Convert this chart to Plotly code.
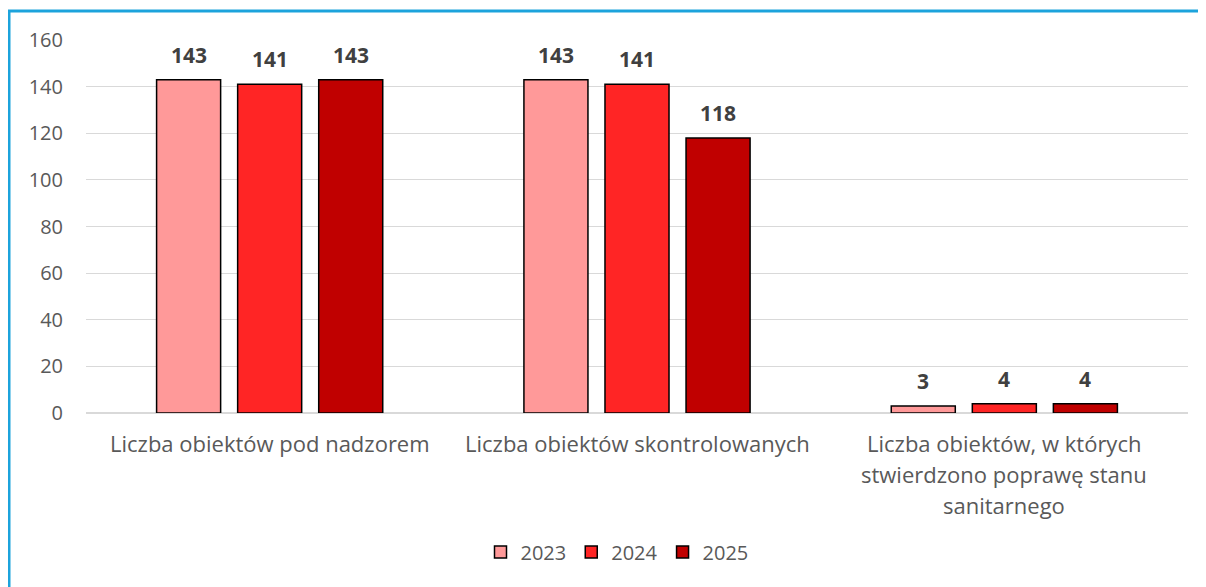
import plotly.graph_objects as go

categories = [
    "Liczba obiektów pod nadzorem",
    "Liczba obiektów skontrolowanych",
    "Liczba obiektów, w których\nstwierdzono poprawę stanu\nsanitarnego",
]
series_names = ["2023", "2024", "2025"]
values_2023 = [143, 143, 3]
values_2024 = [141, 141, 4]
values_2025 = [143, 118, 4]
colors = ["#FF9999", "#FF2525", "#C00000"]
y_ticks = [0, 20, 40, 60, 80, 100, 120, 140, 160]

series_values = [values_2023, values_2024, values_2025]

# page has an 8px body margin; figure coordinates below are page coords - 8
OFF = 8
W, H = 1206, 587
ML, MT = 86 - OFF, 40 - OFF
plot_right, plot_bottom = 1188 - OFF, 413 - OFF
MR, MB = W - plot_right, H - plot_bottom
plot_w = plot_right - ML
plot_h = plot_bottom - MT
bargap = 0.338
bargroupgap = 0.21

font = "Open Sans, Liberation Sans, Arial, sans-serif"
gray = "#595959"
FS = 20

fig = go.Figure()
for name, vals, col in zip(series_names, series_values, colors):
    fig.add_trace(go.Bar(
        x=list(range(len(categories))), y=vals, name=name,
        marker=dict(color=col, line=dict(color="#000000", width=1.5)),
    ))

# category labels (multi-line with wide line spacing)
cat_w = plot_w / len(categories)
line_gap = 31
for i, c in enumerate(categories):
    for j, line in enumerate(c.split("\n")):
        fig.add_annotation(x=i, y=0, xref="x", yref="y", text=line, showarrow=False,
                           yshift=-30 - j * line_gap, yanchor="middle",
                           font=dict(family=font, size=22, color=gray))

# data labels
slot = cat_w * (1 - bargap) / len(series_names)
for k, vals in enumerate(series_values):
    for i, v in enumerate(vals):
        fig.add_annotation(x=i, y=v, xref="x", yref="y", text=f"<b>{v}</b>", showarrow=False,
                           xshift=(k - 1) * slot, yshift=25, yanchor="middle",
                           font=dict(family=font, size=21, color="#404040"))

# outer border (left and top visible)
px2x = lambda px: (px - ML) / plot_w
py2y = lambda py: (plot_bottom - py) / plot_h
fig.add_shape(type="rect", xref="paper", yref="paper",
              x0=px2x(1), x1=px2x(1300), y0=py2y(700), y1=py2y(3),
              line=dict(color="#1CA3DC", width=3), fillcolor="rgba(0,0,0,0)", layer="below")

fig.update_layout(
    width=W, height=H,
    margin=dict(l=ML, r=MR, t=MT, b=MB),
    plot_bgcolor="white", paper_bgcolor="white",
    barmode="group", bargap=bargap, bargroupgap=bargroupgap,
    showlegend=True,
    legend=dict(orientation="h", x=px2x(617 - OFF), xanchor="center", y=py2y(552 - OFF),
                yanchor="middle", font=dict(family=font, size=FS, color=gray), itemwidth=30,
                traceorder="normal"),
    xaxis=dict(range=[-0.5, 2.5], showticklabels=False, showgrid=False, zeroline=False,
               showline=False, ticks=""),
    yaxis=dict(range=[0, 160], tickvals=y_ticks, showgrid=True, gridcolor="#D9D9D9",
               gridwidth=1.3, zeroline=True, zerolinecolor="#D9D9D9", zerolinewidth=1.5,
               showline=False, ticks="", ticklabelstandoff=22,
               tickfont=dict(family=font, size=FS, color=gray)),
)

fig.write_html("out.html")
